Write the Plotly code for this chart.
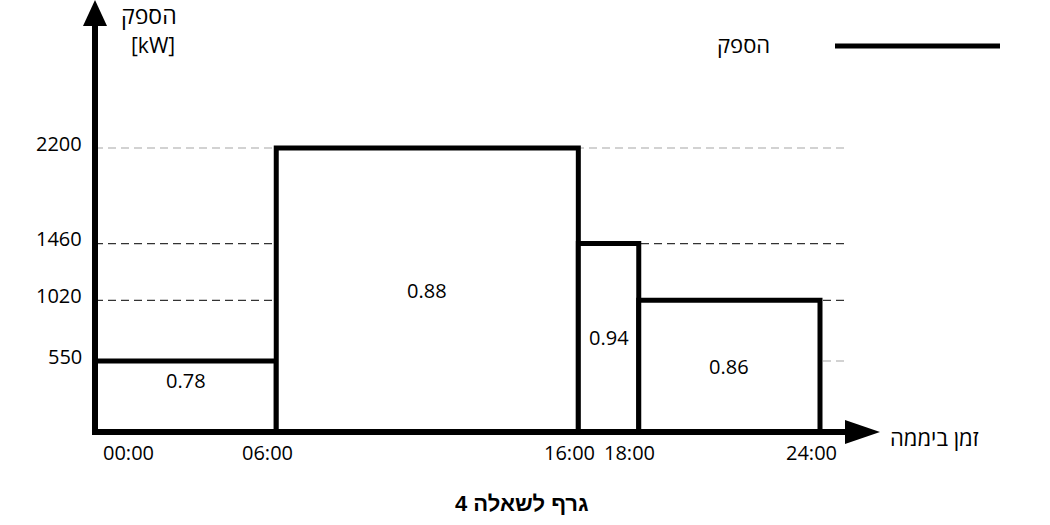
import plotly.graph_objects as go

# ---- data ----
hour_edges = [0, 6, 16, 18, 24]
power_kw = [550, 2200, 1460, 1020]
power_factor = ["0.78", "0.88", "0.94", "0.86"]
time_labels = ["00:00", "06:00", "16:00", "18:00", "24:00"]
guide_levels = [2200, 1460, 1020, 550]
guide_labels = ["2200", "1460", "1020", "550"]
guide_colors = ["#a6a6a6", "#333333", "#333333", "#a6a6a6"]
y_title = ["הספק", "[kW]"]
x_title = "זמן ביממה"
legend_label = "הספק"
caption = "גרף לשאלה 4"

# ---- layout geometry (pixels) ----
W, H = 1050, 525
ML, MR, MT, MB = 80, 170, 0, 78
x_origin_px = 95          # pixel of hour 0
px_per_h = 725 / 24       # 24h spans 725 px
y_origin_px = 432         # pixel of 0 kW
px_per_kw = (432 - 148) / 2200
x_range = [-(x_origin_px - ML) / px_per_h, (W - MR - x_origin_px) / px_per_h]
y_range = [-(H - MB - y_origin_px) / px_per_kw, (y_origin_px - MT) / px_per_kw]
guide_end = (848 - x_origin_px) / px_per_h
PW, PH = W - ML - MR, H - MT - MB


def px_x(px):
    return (px - ML) / PW


def px_y(py):
    return (H - MB - py) / PH


FONT = "Open Sans"
HEB = "Open Sans"

fig = go.Figure()

# dashed guide lines (drawn first, behind the boxes)
for lvl, col in zip(guide_levels, guide_colors):
    fig.add_trace(go.Scatter(x=[0, guide_end], y=[lvl, lvl], mode="lines",
                             line=dict(color=col, width=1.2, dash="8px,5px"),
                             hoverinfo="skip", showlegend=False))

# power boxes
for i, p in enumerate(power_kw):
    a, b = hour_edges[i], hour_edges[i + 1]
    fig.add_trace(go.Scatter(x=[a, a, b, b, a], y=[0, p, p, 0, 0], mode="lines",
                             fill="toself", fillcolor="white",
                             line=dict(color="black", width=5),
                             name=legend_label, showlegend=False, hoverinfo="skip"))

annotations = []
# power-factor labels in box centres (first one sits just under the top edge)
for i, pf in enumerate(power_factor):
    a, b = hour_edges[i], hour_edges[i + 1]
    annotations.append(dict(x=(a + b) / 2, y=power_kw[i] / 2, text=pf, showarrow=False,
                            xanchor="center", yanchor="middle",
                            yshift=16 if i == 0 else 0,
                            font=dict(family=FONT, size=20, color="black")))
# time tick labels
for i, (h, t) in enumerate(zip(hour_edges, time_labels)):
    annotations.append(dict(x=h, y=0, text=t, showarrow=False, yanchor="top",
                            xanchor="left" if i == 0 else "center",
                            xshift=6 if i == 0 else -9, yshift=-5,
                            font=dict(family=FONT, size=20, color="black")))
# power tick labels
for lvl, lab in zip(guide_levels, guide_labels):
    annotations.append(dict(x=px_x(84), y=lvl, xref="paper", yref="y", text=lab,
                            showarrow=False, xanchor="right", yanchor="middle", yshift=5,
                            font=dict(family=FONT, size=20, color="black")))
# axis titles
annotations.append(dict(x=px_x(179), y=px_y(15), xref="paper", yref="paper",
                        text=y_title[0], showarrow=False, xanchor="right", yanchor="middle",
                        font=dict(family=HEB, size=23, color="black")))
annotations.append(dict(x=px_x(177), y=px_y(45), xref="paper", yref="paper",
                        text=y_title[1], showarrow=False, xanchor="right", yanchor="middle",
                        font=dict(family=FONT, size=21, color="black")))
annotations.append(dict(x=px_x(888), y=px_y(437), xref="paper", yref="paper",
                        text=x_title, showarrow=False, xanchor="left", yanchor="middle",
                        font=dict(family=HEB, size=22, color="black")))
# legend
annotations.append(dict(x=px_x(772), y=px_y(44), xref="paper", yref="paper",
                        text=legend_label, showarrow=False, xanchor="right", yanchor="middle",
                        font=dict(family=HEB, size=22, color="black")))
# caption
annotations.append(dict(x=px_x(522), y=px_y(503), xref="paper", yref="paper",
                        text="<b>" + caption + "</b>", showarrow=False,
                        xanchor="center", yanchor="middle",
                        font=dict(family="Liberation Sans", size=22, color="black")))

shapes = [
    # y axis line
    dict(type="line", xref="x", yref="y", x0=0, x1=0, y0=0,
         y1=(y_origin_px - 22) / px_per_kw, line=dict(color="black", width=6)),
    # x axis line
    dict(type="line", xref="x", yref="y", x0=-3 / px_per_h, x1=(848 - x_origin_px) / px_per_h,
         y0=0, y1=0, line=dict(color="black", width=6)),
    # y arrow head
    dict(type="path", xref="x", yref="y", xsizemode="pixel", ysizemode="pixel",
         xanchor=0, yanchor=y_range[1], path="M -12 -26 L 12 -26 L 0 0 Z",
         fillcolor="black", line=dict(color="black", width=0)),
    # x arrow head
    dict(type="path", xref="x", yref="y", xsizemode="pixel", ysizemode="pixel",
         xanchor=x_range[1], yanchor=0, path="M 0 0 L -35 12 L -35 -12 Z",
         fillcolor="black", line=dict(color="black", width=0)),
    # legend line
    dict(type="line", xref="paper", yref="paper",
         x0=px_x(835), x1=px_x(1000), y0=px_y(46), y1=px_y(46),
         line=dict(color="black", width=5)),
]

fig.update_layout(
    width=W, height=H,
    margin=dict(l=ML, r=MR, t=MT, b=MB),
    plot_bgcolor="white", paper_bgcolor="white",
    showlegend=False,
    xaxis=dict(range=x_range, showgrid=False, zeroline=False, showticklabels=False,
               showline=False, fixedrange=True),
    yaxis=dict(range=y_range, showgrid=False, zeroline=False, showline=False,
               showticklabels=False, fixedrange=True),
    annotations=annotations,
    shapes=shapes,
)

fig.write_html("out.html")
